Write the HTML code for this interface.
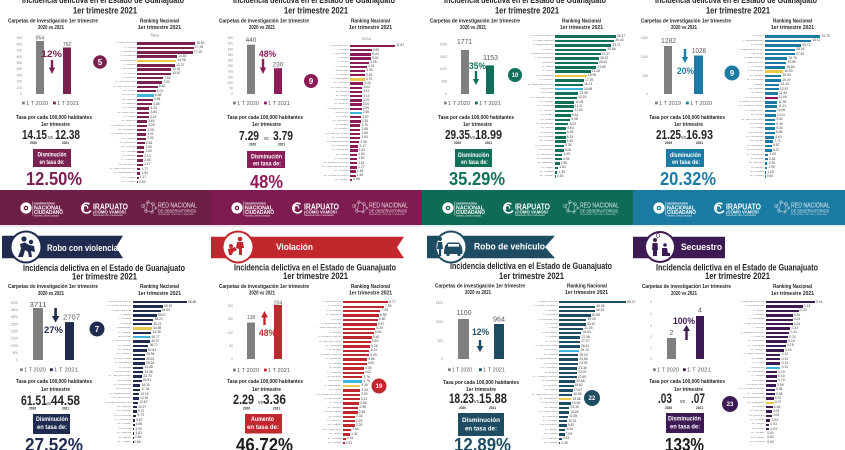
<!DOCTYPE html>
<html><head><meta charset="utf-8"><style>
html,body{margin:0;padding:0;background:#fff}
#w{position:relative;width:845px;height:450px;overflow:hidden;background:#fff}
#w>svg{position:absolute;left:0;top:0}
text{font-family:"Liberation Sans",sans-serif}
.b{font-weight:bold;fill:#262626}
.w{font-weight:bold;fill:#fff}
.tk{fill:#8c8c8c;font-size:3.2px;text-anchor:end}
.lg{fill:#595959;font-size:5px}
.yr{font-weight:bold;fill:#262626;font-size:3.2px}
.vs{fill:#333;font-size:5px}
.bl{fill:#595959;text-anchor:middle}
.rk{position:absolute;width:130px}
.rk p{margin:0;height:var(--h);display:flex;align-items:center;white-space:nowrap}
.rk b{flex:none;width:30px;padding-right:1.5px;text-align:right;font:400 2.6px/1 "Liberation Sans",sans-serif;color:#808080;overflow:hidden}
.rk i{flex:none;display:block;height:2.4px;background:var(--c)}
.rk u{flex:none;margin-left:1.2px;font:400 3.3px/1 "Liberation Sans",sans-serif;color:#444;text-decoration:none}
.rk .g i{background:#e9c84c}
.rk .n i{background:#3fb5dd}
.rk .m i{background:#8b1a4e}
</style></head><body><div id="w">
<svg width="845" height="450" viewBox="0 0 845 450">
<rect x="0" y="225" width="422" height="2" fill="#f1e4ec"/>
<rect x="422" y="225" width="423" height="2" fill="#e3f3f8"/>

<!-- ===== PANEL 1 ===== -->
<g transform="translate(0,0)">
<text x="22" y="3" font-size="9.5" textLength="162" lengthAdjust="spacingAndGlyphs" class="b">Incidencia delictiva en el Estado de Guanajuato</text>
<text x="73" y="13.5" font-size="9.5" textLength="64" lengthAdjust="spacingAndGlyphs" class="b">1er trimestre 2021</text>
<text x="8" y="22.5" font-size="5.5" textLength="90" lengthAdjust="spacingAndGlyphs" class="b">Carpetas de investigación  1er trimestre</text>
<text x="38" y="29" font-size="5.5" textLength="26" lengthAdjust="spacingAndGlyphs" class="b">2020 vs 2021</text>
<text x="140" y="22.5" font-size="5.5" textLength="39" lengthAdjust="spacingAndGlyphs" class="b">Ranking Nacional</text>
<text x="138" y="29" font-size="5.5" textLength="43" lengthAdjust="spacingAndGlyphs" class="b">1er trimestre 2021</text>
<text x="150" y="36.5" font-size="4.2" fill="#8c8c8c">Tasa</text>
<text class="tk" x="22" y="39.2">900</text><text class="tk" x="22" y="45.4">800</text><text class="tk" x="22" y="51.6">700</text><text class="tk" x="22" y="57.8">600</text><text class="tk" x="22" y="64">500</text><text class="tk" x="22" y="70.2">400</text><text class="tk" x="22" y="76.4">300</text><text class="tk" x="22" y="82.6">200</text><text class="tk" x="22" y="88.8">100</text><text class="tk" x="22" y="95">0</text>
<rect x="36" y="41" width="8" height="53" fill="#7f7f7f"/>
<rect x="63" y="47.5" width="8" height="46.5" fill="#7a2150"/>
<text class="bl" x="40" y="39.5" font-size="5">854</text>
<text class="bl" x="67" y="46" font-size="5">752</text>
<text x="41" y="57" font-size="9.5" textLength="21" lengthAdjust="spacingAndGlyphs" font-weight="bold" fill="#7a2150">12%</text>
<rect x="50.8" y="60" width="2.4" height="8.5" fill="#7a2150"/><polygon points="48.8,67.5 55.2,67.5 52,74" fill="#7a2150"/>
<circle cx="100" cy="62" r="6.8" fill="#7a2150"/><text x="100" y="65" font-size="8" class="w" text-anchor="middle">5</text>
<rect x="22" y="101.6" width="2.8" height="2.8" fill="#7f7f7f"/><text class="lg" x="26" y="105" textLength="22" lengthAdjust="spacingAndGlyphs">1 T 2020</text>
<rect x="53" y="101.6" width="2.8" height="2.8" fill="#7a2150"/><text class="lg" x="57" y="105" textLength="22" lengthAdjust="spacingAndGlyphs">1 T 2021</text>
<text x="16" y="119" font-size="5.5" textLength="76" lengthAdjust="spacingAndGlyphs" class="b">Tasa por cada 100,000 habitantes</text>
<text x="41" y="126" font-size="5.5" textLength="29" lengthAdjust="spacingAndGlyphs" class="b">1er trimestre</text>
<text x="22" y="139" font-size="13" textLength="25" lengthAdjust="spacingAndGlyphs" class="b">14.15</text>
<text x="48" y="139" class="vs" textLength="5" lengthAdjust="spacingAndGlyphs">vs</text>
<text x="55" y="139" font-size="13" textLength="25" lengthAdjust="spacingAndGlyphs" class="b">12.38</text>
<text x="30" y="144" class="yr">2020</text><text x="62" y="144" class="yr">2021</text>
<rect x="33" y="149" width="38" height="18" fill="#7a2150"/>
<text x="37.5" y="156.5" font-size="6" textLength="29" lengthAdjust="spacingAndGlyphs" class="w">Disminución</text>
<text x="39.5" y="163.8" font-size="6" textLength="25" lengthAdjust="spacingAndGlyphs" class="w">en tasa de:</text>
<text x="26" y="185" font-size="18.5" textLength="56" lengthAdjust="spacingAndGlyphs" font-weight="bold" fill="#7a2150">12.50%</text>
</g>

<!-- ===== PANEL 2 ===== -->
<g transform="translate(211,0)">
<text x="22" y="3" font-size="9.5" textLength="162" lengthAdjust="spacingAndGlyphs" class="b">Incidencia delictiva en el Estado de Guanajuato</text>
<text x="73" y="13.5" font-size="9.5" textLength="64" lengthAdjust="spacingAndGlyphs" class="b">1er trimestre 2021</text>
<text x="8" y="22.5" font-size="5.5" textLength="90" lengthAdjust="spacingAndGlyphs" class="b">Carpetas de investigación  1er trimestre</text>
<text x="38" y="29" font-size="5.5" textLength="26" lengthAdjust="spacingAndGlyphs" class="b">2020 vs 2021</text>
<text x="140" y="22.5" font-size="5.5" textLength="39" lengthAdjust="spacingAndGlyphs" class="b">Ranking Nacional</text>
<text x="138" y="29" font-size="5.5" textLength="43" lengthAdjust="spacingAndGlyphs" class="b">1er trimestre 2021</text>
<text x="150" y="40" font-size="4" fill="#8c8c8c">TASA</text>
<text class="tk" x="22" y="39.1">500</text><text class="tk" x="22" y="44.7">450</text><text class="tk" x="22" y="50.3">400</text><text class="tk" x="22" y="55.9">350</text><text class="tk" x="22" y="61.5">300</text><text class="tk" x="22" y="67.1">250</text><text class="tk" x="22" y="72.7">200</text><text class="tk" x="22" y="78.3">150</text><text class="tk" x="22" y="83.9">100</text><text class="tk" x="22" y="89.5">50</text><text class="tk" x="22" y="95.1">0</text>
<rect x="36" y="44.7" width="8" height="49.3" fill="#7f7f7f"/>
<rect x="63" y="68.2" width="8" height="25.8" fill="#8b1c57"/>
<text class="bl" x="40" y="42" font-size="6.5">440</text>
<text class="bl" x="67" y="66.5" font-size="6.5">230</text>
<text x="48" y="57" font-size="9.5" textLength="17" lengthAdjust="spacingAndGlyphs" font-weight="bold" fill="#8b1c57">48%</text>
<rect x="50.8" y="59" width="2.4" height="9" fill="#8b1c57"/><polygon points="48.8,67.5 55.2,67.5 52,74" fill="#8b1c57"/>
<circle cx="100" cy="81" r="7" fill="#8b1c57"/><text x="100" y="84" font-size="8" class="w" text-anchor="middle">9</text>
<rect x="22" y="101.6" width="2.8" height="2.8" fill="#7f7f7f"/><text class="lg" x="26" y="105" textLength="22" lengthAdjust="spacingAndGlyphs">1 T 2020</text>
<rect x="53" y="101.6" width="2.8" height="2.8" fill="#8b1c57"/><text class="lg" x="57" y="105" textLength="22" lengthAdjust="spacingAndGlyphs">1 T 2021</text>
<text x="16" y="119" font-size="5.5" textLength="76" lengthAdjust="spacingAndGlyphs" class="b">Tasa por cada 100,000 habitantes</text>
<text x="41" y="126" font-size="5.5" textLength="29" lengthAdjust="spacingAndGlyphs" class="b">1er trimestre</text>
<text x="28" y="140" font-size="13" textLength="20" lengthAdjust="spacingAndGlyphs" class="b">7.29</text>
<text x="53" y="140" class="vs" textLength="4.5" lengthAdjust="spacingAndGlyphs">vs</text>
<text x="62" y="140" font-size="13" textLength="20" lengthAdjust="spacingAndGlyphs" class="b">3.79</text>
<text x="38" y="145.5" class="yr">2020</text><text x="67" y="145.5" class="yr">2021</text>
<rect x="36" y="151" width="38" height="17" fill="#8b1c57"/>
<text x="40" y="158.3" font-size="6" textLength="31" lengthAdjust="spacingAndGlyphs" class="w">Disminución</text>
<text x="42" y="165.5" font-size="6" textLength="28" lengthAdjust="spacingAndGlyphs" class="w" font-weight="normal">en tasa de:</text>
<text x="39" y="188" font-size="18.5" textLength="33" lengthAdjust="spacingAndGlyphs" font-weight="bold" fill="#8b1c57">48%</text>
</g>

<!-- ===== PANEL 3 ===== -->
<g transform="translate(422,0)">
<text x="22" y="3" font-size="9.5" textLength="162" lengthAdjust="spacingAndGlyphs" class="b">Incidencia delictiva en el Estado de Guanajuato</text>
<text x="73" y="13.5" font-size="9.5" textLength="64" lengthAdjust="spacingAndGlyphs" class="b">1er trimestre 2021</text>
<text x="8" y="22.5" font-size="5.5" textLength="90" lengthAdjust="spacingAndGlyphs" class="b">Carpetas de investigación  1er trimestre</text>
<text x="38" y="29" font-size="5.5" textLength="26" lengthAdjust="spacingAndGlyphs" class="b">2020 vs 2021</text>
<text x="140" y="22.5" font-size="5.5" textLength="39" lengthAdjust="spacingAndGlyphs" class="b">Ranking Nacional</text>
<text x="138" y="29" font-size="5.5" textLength="43" lengthAdjust="spacingAndGlyphs" class="b">1er trimestre 2021</text>
<text class="tk" x="25" y="45.4">2000</text><text class="tk" x="25" y="57.8">1500</text><text class="tk" x="25" y="70.2">1000</text><text class="tk" x="25" y="82.6">500</text><text class="tk" x="25" y="95">0</text>
<rect x="39" y="50" width="8" height="44" fill="#7f7f7f"/>
<rect x="64" y="65.4" width="8" height="28.6" fill="#12705a"/>
<text class="bl" x="42.5" y="44" font-size="7" textLength="15" lengthAdjust="spacingAndGlyphs">1771</text>
<text class="bl" x="68.5" y="60" font-size="7" textLength="15" lengthAdjust="spacingAndGlyphs">1153</text>
<text x="47" y="69" font-size="9.5" textLength="17" lengthAdjust="spacingAndGlyphs" font-weight="bold" fill="#12705a">35%</text>
<rect x="52.8" y="71" width="2.4" height="8.5" fill="#12705a"/><polygon points="50.8,79 57.2,79 54,85" fill="#12705a"/>
<circle cx="93" cy="75" r="7" fill="#12705a"/><text x="93" y="77.2" font-size="6" class="w" text-anchor="middle">10</text>
<rect x="22" y="101.6" width="2.8" height="2.8" fill="#7f7f7f"/><text class="lg" x="26" y="105" textLength="22" lengthAdjust="spacingAndGlyphs">1 T 2020</text>
<rect x="53" y="101.6" width="2.8" height="2.8" fill="#12705a"/><text class="lg" x="57" y="105" textLength="22" lengthAdjust="spacingAndGlyphs">1 T 2021</text>
<text x="16" y="119" font-size="5.5" textLength="76" lengthAdjust="spacingAndGlyphs" class="b">Tasa por cada 100,000 habitantes</text>
<text x="41" y="126" font-size="5.5" textLength="29" lengthAdjust="spacingAndGlyphs" class="b">1er trimestre</text>
<text x="23" y="139" font-size="13" textLength="25" lengthAdjust="spacingAndGlyphs" class="b">29.35</text>
<text x="48" y="139" class="vs" textLength="5" lengthAdjust="spacingAndGlyphs">vs</text>
<text x="53" y="139" font-size="13" textLength="27" lengthAdjust="spacingAndGlyphs" class="b">18.99</text>
<text x="32" y="144" class="yr">2020</text><text x="63" y="144" class="yr">2021</text>
<rect x="33" y="149" width="37" height="18" fill="#12705a"/>
<text x="36" y="157" font-size="6" textLength="31" lengthAdjust="spacingAndGlyphs" class="w">Disminución</text>
<text x="39" y="164" font-size="6" textLength="27" lengthAdjust="spacingAndGlyphs" class="w">en tasa de:</text>
<text x="27" y="185" font-size="18.5" textLength="56" lengthAdjust="spacingAndGlyphs" font-weight="bold" fill="#12705a">35.29%</text>
</g>

<!-- ===== PANEL 4 ===== -->
<g transform="translate(633,0)">
<text x="22" y="3" font-size="9.5" textLength="162" lengthAdjust="spacingAndGlyphs" class="b">Incidencia delictiva en el Estado de Guanajuato</text>
<text x="73" y="13.5" font-size="9.5" textLength="64" lengthAdjust="spacingAndGlyphs" class="b">1er trimestre 2021</text>
<text x="8" y="22.5" font-size="5.5" textLength="90" lengthAdjust="spacingAndGlyphs" class="b">Carpetas de investigación  1er trimestre</text>
<text x="38" y="29" font-size="5.5" textLength="26" lengthAdjust="spacingAndGlyphs" class="b">2020 vs 2021</text>
<text x="140" y="22.5" font-size="5.5" textLength="39" lengthAdjust="spacingAndGlyphs" class="b">Ranking Nacional</text>
<text x="138" y="29" font-size="5.5" textLength="43" lengthAdjust="spacingAndGlyphs" class="b">1er trimestre 2021</text>
<text class="tk" x="15" y="39.1">1500</text><text class="tk" x="15" y="58.1">1000</text><text class="tk" x="15" y="77.1">500</text><text class="tk" x="15" y="95.1">0</text>
<rect x="31" y="46" width="8" height="48" fill="#7f7f7f"/>
<rect x="61" y="55.5" width="9" height="38.5" fill="#1b7ba4"/>
<text class="bl" x="35.5" y="43" font-size="7" textLength="15" lengthAdjust="spacingAndGlyphs">1282</text>
<text class="bl" x="66" y="53" font-size="7" textLength="14" lengthAdjust="spacingAndGlyphs">1028</text>
<rect x="50.8" y="49" width="2.4" height="8.5" fill="#1b7ba4"/><polygon points="48.8,57 55.2,57 52,63" fill="#1b7ba4"/>
<text x="44" y="74" font-size="9.5" textLength="17" lengthAdjust="spacingAndGlyphs" font-weight="bold" fill="#1b7ba4">20%</text>
<circle cx="99" cy="73" r="7.5" fill="#1b7ba4"/><text x="99" y="76" font-size="8" class="w" text-anchor="middle">9</text>
<rect x="22" y="101.6" width="2.8" height="2.8" fill="#7f7f7f"/><text class="lg" x="26" y="105" textLength="22" lengthAdjust="spacingAndGlyphs">1 T 2019</text>
<rect x="53" y="101.6" width="2.8" height="2.8" fill="#1b7ba4"/><text class="lg" x="57" y="105" textLength="22" lengthAdjust="spacingAndGlyphs">1 T 2020</text>
<text x="16" y="119" font-size="5.5" textLength="76" lengthAdjust="spacingAndGlyphs" class="b">Tasa por cada 100,000 habitantes</text>
<text x="41" y="126" font-size="5.5" textLength="29" lengthAdjust="spacingAndGlyphs" class="b">1er trimestre</text>
<text x="23" y="139" font-size="13" textLength="25" lengthAdjust="spacingAndGlyphs" class="b">21.25</text>
<text x="48" y="139" class="vs" textLength="5" lengthAdjust="spacingAndGlyphs">vs</text>
<text x="53" y="139" font-size="13" textLength="27" lengthAdjust="spacingAndGlyphs" class="b">16.93</text>
<text x="32" y="144" class="yr">2019</text><text x="63" y="144" class="yr">2021</text>
<rect x="33" y="149" width="38" height="18" fill="#1b7ba4"/>
<text x="37" y="157" font-size="6" textLength="31" lengthAdjust="spacingAndGlyphs" class="w">disminución</text>
<text x="39" y="164" font-size="6" textLength="28" lengthAdjust="spacingAndGlyphs" class="w">en tasa de:</text>
<text x="27" y="185" font-size="18.5" textLength="56" lengthAdjust="spacingAndGlyphs" font-weight="bold" fill="#1b7ba4">20.32%</text>
</g>

<!-- ===== FOOTERS ===== -->
<g transform="translate(0,190)">
<rect width="211" height="35" fill="#6e1f46"/>
<circle cx="26" cy="18" r="5.6" fill="#fff"/><circle cx="26" cy="18" r="2.3" fill="#6e1f46"/><circle cx="26" cy="18" r="1" fill="#fff"/>
<rect x="32.6" y="11.5" width=".5" height="14" fill="#fff"/>
<text x="34" y="14.6" font-size="3" textLength="21" lengthAdjust="spacingAndGlyphs" class="w">OBSERVATORIO</text>
<text x="34" y="19.4" font-size="5" textLength="28" lengthAdjust="spacingAndGlyphs" class="w">NACIONAL</text>
<text x="34" y="24" font-size="5" textLength="29" lengthAdjust="spacingAndGlyphs" class="w">CIUDADANO</text>
<text x="34" y="26.4" font-size="1.7" textLength="25" lengthAdjust="spacingAndGlyphs" class="w" opacity=".8">SEGURIDAD, JUSTICIA Y LEGALIDAD</text>
<path d="M89.5,14.2 A4.8,4.8 0 1 0 90.8,20.5" stroke="#fff" stroke-width="1.7" fill="none"/>
<path d="M84.2,19.5 A2.2,2.2 0 1 1 87.5,18.6" stroke="#fff" stroke-width="1.3" fill="none"/>
<text x="93" y="19.3" font-size="8" textLength="35" lengthAdjust="spacingAndGlyphs" class="w">IRAPUATO</text>
<text x="93" y="23.5" font-size="4.4" textLength="33" lengthAdjust="spacingAndGlyphs" class="w">¡CÓMO VAMOS!</text>
<text x="93" y="26" font-size="1.6" textLength="30" lengthAdjust="spacingAndGlyphs" class="w" opacity=".7">OBSERVATORIO CIUDADANO</text>
<g stroke="#fff" stroke-width=".5" fill="none" opacity=".75"><circle cx="143" cy="16" r="1.6"/><circle cx="148" cy="12" r="1.3"/><circle cx="153" cy="14" r="1.5"/><circle cx="146" cy="21" r="1.4"/><circle cx="152" cy="22" r="1.2"/><circle cx="156" cy="18" r="1"/><path d="M143,16 L148,12 L153,14 L156,18 L152,22 L146,21 Z M148,12 L146,21 M153,14 L152,22"/></g>
<text x="158" y="17.3" font-size="7" textLength="39" lengthAdjust="spacingAndGlyphs" fill="#fff" opacity=".85">RED NACIONAL</text>
<text x="158" y="22.5" font-size="4.6" textLength="38" lengthAdjust="spacingAndGlyphs" fill="#fff" opacity=".85">DE OBSERVATORIOS</text>
<text x="158" y="25.2" font-size="1.6" textLength="36" lengthAdjust="spacingAndGlyphs" fill="#fff" opacity=".7">SEGURIDAD, JUSTICIA Y LEGALIDAD</text>
</g>
<g transform="translate(211,190)">
<rect width="211" height="35" fill="#7e1b50"/>
<circle cx="26" cy="18" r="5.6" fill="#fff"/><circle cx="26" cy="18" r="2.3" fill="#7e1b50"/><circle cx="26" cy="18" r="1" fill="#fff"/>
<rect x="32.6" y="11.5" width=".5" height="14" fill="#fff"/>
<text x="34" y="14.6" font-size="3" textLength="21" lengthAdjust="spacingAndGlyphs" class="w">OBSERVATORIO</text>
<text x="34" y="19.4" font-size="5" textLength="28" lengthAdjust="spacingAndGlyphs" class="w">NACIONAL</text>
<text x="34" y="24" font-size="5" textLength="29" lengthAdjust="spacingAndGlyphs" class="w">CIUDADANO</text>
<text x="34" y="26.4" font-size="1.7" textLength="25" lengthAdjust="spacingAndGlyphs" class="w" opacity=".8">SEGURIDAD, JUSTICIA Y LEGALIDAD</text>
<path d="M89.5,14.2 A4.8,4.8 0 1 0 90.8,20.5" stroke="#fff" stroke-width="1.7" fill="none"/>
<path d="M84.2,19.5 A2.2,2.2 0 1 1 87.5,18.6" stroke="#fff" stroke-width="1.3" fill="none"/>
<text x="93" y="19.3" font-size="8" textLength="35" lengthAdjust="spacingAndGlyphs" class="w">IRAPUATO</text>
<text x="93" y="23.5" font-size="4.4" textLength="33" lengthAdjust="spacingAndGlyphs" class="w">¡CÓMO VAMOS!</text>
<text x="93" y="26" font-size="1.6" textLength="30" lengthAdjust="spacingAndGlyphs" class="w" opacity=".7">OBSERVATORIO CIUDADANO</text>
<g stroke="#fff" stroke-width=".5" fill="none" opacity=".75"><circle cx="143" cy="16" r="1.6"/><circle cx="148" cy="12" r="1.3"/><circle cx="153" cy="14" r="1.5"/><circle cx="146" cy="21" r="1.4"/><circle cx="152" cy="22" r="1.2"/><circle cx="156" cy="18" r="1"/><path d="M143,16 L148,12 L153,14 L156,18 L152,22 L146,21 Z M148,12 L146,21 M153,14 L152,22"/></g>
<text x="158" y="17.3" font-size="7" textLength="39" lengthAdjust="spacingAndGlyphs" fill="#fff" opacity=".85">RED NACIONAL</text>
<text x="158" y="22.5" font-size="4.6" textLength="38" lengthAdjust="spacingAndGlyphs" fill="#fff" opacity=".85">DE OBSERVATORIOS</text>
<text x="158" y="25.2" font-size="1.6" textLength="36" lengthAdjust="spacingAndGlyphs" fill="#fff" opacity=".7">SEGURIDAD, JUSTICIA Y LEGALIDAD</text>
</g>
<g transform="translate(422,190)">
<rect width="211" height="35" fill="#0f6b56"/>
<circle cx="26" cy="18" r="5.6" fill="#fff"/><circle cx="26" cy="18" r="2.3" fill="#0f6b56"/><circle cx="26" cy="18" r="1" fill="#fff"/>
<rect x="32.6" y="11.5" width=".5" height="14" fill="#fff"/>
<text x="34" y="14.6" font-size="3" textLength="21" lengthAdjust="spacingAndGlyphs" class="w">OBSERVATORIO</text>
<text x="34" y="19.4" font-size="5" textLength="28" lengthAdjust="spacingAndGlyphs" class="w">NACIONAL</text>
<text x="34" y="24" font-size="5" textLength="29" lengthAdjust="spacingAndGlyphs" class="w">CIUDADANO</text>
<text x="34" y="26.4" font-size="1.7" textLength="25" lengthAdjust="spacingAndGlyphs" class="w" opacity=".8">SEGURIDAD, JUSTICIA Y LEGALIDAD</text>
<path d="M89.5,14.2 A4.8,4.8 0 1 0 90.8,20.5" stroke="#fff" stroke-width="1.7" fill="none"/>
<path d="M84.2,19.5 A2.2,2.2 0 1 1 87.5,18.6" stroke="#fff" stroke-width="1.3" fill="none"/>
<text x="93" y="19.3" font-size="8" textLength="35" lengthAdjust="spacingAndGlyphs" class="w">IRAPUATO</text>
<text x="93" y="23.5" font-size="4.4" textLength="33" lengthAdjust="spacingAndGlyphs" class="w">¡CÓMO VAMOS!</text>
<text x="93" y="26" font-size="1.6" textLength="30" lengthAdjust="spacingAndGlyphs" class="w" opacity=".7">OBSERVATORIO CIUDADANO</text>
<g stroke="#fff" stroke-width=".5" fill="none" opacity=".75"><circle cx="143" cy="16" r="1.6"/><circle cx="148" cy="12" r="1.3"/><circle cx="153" cy="14" r="1.5"/><circle cx="146" cy="21" r="1.4"/><circle cx="152" cy="22" r="1.2"/><circle cx="156" cy="18" r="1"/><path d="M143,16 L148,12 L153,14 L156,18 L152,22 L146,21 Z M148,12 L146,21 M153,14 L152,22"/></g>
<text x="158" y="17.3" font-size="7" textLength="39" lengthAdjust="spacingAndGlyphs" fill="#fff" opacity=".85">RED NACIONAL</text>
<text x="158" y="22.5" font-size="4.6" textLength="38" lengthAdjust="spacingAndGlyphs" fill="#fff" opacity=".85">DE OBSERVATORIOS</text>
<text x="158" y="25.2" font-size="1.6" textLength="36" lengthAdjust="spacingAndGlyphs" fill="#fff" opacity=".7">SEGURIDAD, JUSTICIA Y LEGALIDAD</text>
</g>
<g transform="translate(633,190)">
<rect width="212" height="35" fill="#1a7aa2"/>
<circle cx="26" cy="18" r="5.6" fill="#fff"/><circle cx="26" cy="18" r="2.3" fill="#1a7aa2"/><circle cx="26" cy="18" r="1" fill="#fff"/>
<rect x="32.6" y="11.5" width=".5" height="14" fill="#fff"/>
<text x="34" y="14.6" font-size="3" textLength="21" lengthAdjust="spacingAndGlyphs" class="w">OBSERVATORIO</text>
<text x="34" y="19.4" font-size="5" textLength="28" lengthAdjust="spacingAndGlyphs" class="w">NACIONAL</text>
<text x="34" y="24" font-size="5" textLength="29" lengthAdjust="spacingAndGlyphs" class="w">CIUDADANO</text>
<text x="34" y="26.4" font-size="1.7" textLength="25" lengthAdjust="spacingAndGlyphs" class="w" opacity=".8">SEGURIDAD, JUSTICIA Y LEGALIDAD</text>
<path d="M89.5,14.2 A4.8,4.8 0 1 0 90.8,20.5" stroke="#fff" stroke-width="1.7" fill="none"/>
<path d="M84.2,19.5 A2.2,2.2 0 1 1 87.5,18.6" stroke="#fff" stroke-width="1.3" fill="none"/>
<text x="93" y="19.3" font-size="8" textLength="35" lengthAdjust="spacingAndGlyphs" class="w">IRAPUATO</text>
<text x="93" y="23.5" font-size="4.4" textLength="33" lengthAdjust="spacingAndGlyphs" class="w">¡CÓMO VAMOS!</text>
<text x="93" y="26" font-size="1.6" textLength="30" lengthAdjust="spacingAndGlyphs" class="w" opacity=".7">OBSERVATORIO CIUDADANO</text>
<g stroke="#fff" stroke-width=".5" fill="none" opacity=".75"><circle cx="143" cy="16" r="1.6"/><circle cx="148" cy="12" r="1.3"/><circle cx="153" cy="14" r="1.5"/><circle cx="146" cy="21" r="1.4"/><circle cx="152" cy="22" r="1.2"/><circle cx="156" cy="18" r="1"/><path d="M143,16 L148,12 L153,14 L156,18 L152,22 L146,21 Z M148,12 L146,21 M153,14 L152,22"/></g>
<text x="158" y="17.3" font-size="7" textLength="39" lengthAdjust="spacingAndGlyphs" fill="#fff" opacity=".85">RED NACIONAL</text>
<text x="158" y="22.5" font-size="4.6" textLength="38" lengthAdjust="spacingAndGlyphs" fill="#fff" opacity=".85">DE OBSERVATORIOS</text>
<text x="158" y="25.2" font-size="1.6" textLength="36" lengthAdjust="spacingAndGlyphs" fill="#fff" opacity=".7">SEGURIDAD, JUSTICIA Y LEGALIDAD</text>
</g>

<!-- ===== PANEL 5 : Robo con violencia ===== -->
<g transform="translate(0,225)">
<polygon points="2,10.7 123,10.7 116,22 123,33.3 2,33.3" fill="#1f2b4f"/>
<circle cx="26" cy="22" r="16.5" fill="#1f2b4f"/><circle cx="26" cy="22" r="14.5" fill="#fff"/>
<circle cx="24" cy="14" r="2.6" fill="#1f2b4f"/><circle cx="31" cy="17" r="2.2" fill="#1f2b4f"/>
<path d="M18,32 L21,24 L20,19 L25,17.5 L29,20 L34,21 L35,27 L31,26 L32,32 L29,32 L28,27 L25,25 L23,32 Z" fill="#1f2b4f"/>
<text x="47" y="26" font-size="9.5" textLength="71" lengthAdjust="spacingAndGlyphs" class="w">Robo con violencia</text>
<text x="23" y="46" font-size="9.5" textLength="162" lengthAdjust="spacingAndGlyphs" class="b">Incidencia delictiva en el Estado de Guanajuato</text>
<text x="72" y="54.5" font-size="9.5" textLength="65" lengthAdjust="spacingAndGlyphs" class="b">1er trimestre 2021</text>
<text x="8" y="63" font-size="5.5" textLength="90" lengthAdjust="spacingAndGlyphs" class="b">Carpetas de investigación  1er trimestre</text>
<text x="38" y="70" font-size="5.5" textLength="26" lengthAdjust="spacingAndGlyphs" class="b">2020 vs 2021</text>
<text x="140" y="63" font-size="5.5" textLength="39" lengthAdjust="spacingAndGlyphs" class="b">Ranking Nacional</text>
<text x="138" y="70" font-size="5.5" textLength="43" lengthAdjust="spacingAndGlyphs" class="b">1er trimestre 2021</text>
<text class="tk" x="18" y="78.8">4000</text><text class="tk" x="18" y="86">3500</text><text class="tk" x="18" y="93.1">3000</text><text class="tk" x="18" y="100.3">2500</text><text class="tk" x="18" y="107.4">2000</text><text class="tk" x="18" y="114.6">1500</text><text class="tk" x="18" y="121.8">1000</text><text class="tk" x="18" y="128.9">500</text><text class="tk" x="18" y="136.1">0</text>
<rect x="33" y="83" width="10" height="52" fill="#7f7f7f"/>
<rect x="65" y="97.1" width="9" height="37.9" fill="#1f2b4f"/>
<text class="bl" x="38" y="82" font-size="7" textLength="17" lengthAdjust="spacingAndGlyphs">3711</text>
<text class="bl" x="71.5" y="94.5" font-size="7" textLength="17" lengthAdjust="spacingAndGlyphs">2707</text>
<rect x="54.3" y="83" width="2.6" height="8.5" fill="#1f2b4f"/><polygon points="51.8,91 59.4,91 55.6,97.5" fill="#1f2b4f"/>
<text x="44" y="108" font-size="9.5" textLength="19" lengthAdjust="spacingAndGlyphs" font-weight="bold" fill="#1f2b4f">27%</text>
<circle cx="97" cy="104" r="7.5" fill="#1f2b4f"/><text x="97" y="107" font-size="8" class="w" text-anchor="middle">7</text>
<rect x="20" y="143.3" width="2.8" height="2.8" fill="#7f7f7f"/><text class="lg" x="24" y="146.7" textLength="22" lengthAdjust="spacingAndGlyphs">1 T 2020</text>
<rect x="50" y="143.3" width="2.8" height="2.8" fill="#1f2b4f"/><text class="lg" x="54" y="146.7" textLength="24" lengthAdjust="spacingAndGlyphs">1 T 2021</text>
<text x="16" y="158" font-size="5.5" textLength="76" lengthAdjust="spacingAndGlyphs" class="b">Tasa por cada 100,000 habitantes</text>
<text x="41" y="166" font-size="5.5" textLength="29" lengthAdjust="spacingAndGlyphs" class="b">1er trimestre</text>
<text x="21" y="180" font-size="13.5" textLength="26" lengthAdjust="spacingAndGlyphs" class="b">61.51</text>
<text x="47" y="180" class="vs" textLength="4" lengthAdjust="spacingAndGlyphs">vs</text>
<text x="51" y="180" font-size="13.5" textLength="29" lengthAdjust="spacingAndGlyphs" class="b">44.58</text>
<text x="29" y="184.5" class="yr">2020</text><text x="62" y="184.5" class="yr">2021</text>
<rect x="33" y="189" width="37" height="20" fill="#1f2b4f"/>
<text x="36" y="196.2" font-size="6" textLength="32" lengthAdjust="spacingAndGlyphs" class="w">Disminución</text>
<text x="37" y="204" font-size="6" textLength="30" lengthAdjust="spacingAndGlyphs" class="w">en tasa de:</text>
<text x="25" y="226" font-size="18.5" textLength="58" lengthAdjust="spacingAndGlyphs" font-weight="bold" fill="#1f2b4f">27.52%</text>
</g>

<!-- ===== PANEL 6 : Violación ===== -->
<g transform="translate(211,225)">
<polygon points="0,11.7 193,11.7 186,22.5 193,33.3 0,33.3" fill="#c2272d"/>
<circle cx="27" cy="22" r="16.5" fill="#c2272d"/><circle cx="27" cy="22" r="14.5" fill="#fff"/>
<circle cx="29" cy="14" r="2.3" fill="#c2272d"/>
<path d="M26,17 L32,17 L33,23 L31,23 L31,30 L28,30 L28,24 L25,23 Z" fill="#c2272d"/>
<circle cx="20" cy="21" r="2" fill="#c2272d"/>
<path d="M17,24 L24,22 L26,25 L22,27 L21,30 L18,30 Z" fill="#c2272d"/>
<text x="65" y="25" font-size="9.5" textLength="37" lengthAdjust="spacingAndGlyphs" class="w">Violación</text>
<text x="23" y="45.5" font-size="9.5" textLength="162" lengthAdjust="spacingAndGlyphs" class="b">Incidencia delictiva en el Estado de Guanajuato</text>
<text x="72" y="54" font-size="9.5" textLength="65" lengthAdjust="spacingAndGlyphs" class="b">1er trimestre 2021</text>
<text x="8" y="63" font-size="5.5" textLength="90" lengthAdjust="spacingAndGlyphs" class="b">Carpetas de investigación  1er trimestre</text>
<text x="38" y="69.5" font-size="5.5" textLength="26" lengthAdjust="spacingAndGlyphs" class="b">2020 vs 2021</text>
<text x="140" y="63" font-size="5.5" textLength="39" lengthAdjust="spacingAndGlyphs" class="b">Ranking Nacional</text>
<text x="138" y="69.5" font-size="5.5" textLength="43" lengthAdjust="spacingAndGlyphs" class="b">1er trimestre 2021</text>
<text class="tk" x="22" y="82.1">200</text><text class="tk" x="22" y="95.1">150</text><text class="tk" x="22" y="109.1">100</text><text class="tk" x="22" y="122.1">50</text><text class="tk" x="22" y="135.1">0</text>
<rect x="36" y="97.5" width="8" height="36.5" fill="#7f7f7f"/>
<rect x="63" y="80" width="8" height="54" fill="#c2272d"/>
<text class="bl" x="40" y="94" font-size="5">138</text>
<text class="bl" x="67" y="79.5" font-size="5">204</text>
<polygon points="50,92.5 57,92.5 53.5,86" fill="#c2272d"/><rect x="52.3" y="92" width="2.4" height="8" fill="#c2272d"/>
<text x="48" y="111" font-size="9.5" textLength="17" lengthAdjust="spacingAndGlyphs" font-weight="bold" fill="#c2272d">48%</text>
<circle cx="168" cy="161" r="7.5" fill="#c2272d"/><text x="168" y="163.2" font-size="6" class="w" text-anchor="middle">19</text>
<rect x="22" y="143.6" width="2.8" height="2.8" fill="#7f7f7f"/><text class="lg" x="26" y="147" textLength="22" lengthAdjust="spacingAndGlyphs">1 T 2020</text>
<rect x="53" y="143.6" width="2.8" height="2.8" fill="#c2272d"/><text class="lg" x="57" y="147" textLength="22" lengthAdjust="spacingAndGlyphs">1 T 2021</text>
<text x="16" y="158" font-size="5.5" textLength="76" lengthAdjust="spacingAndGlyphs" class="b">Tasa por cada 100,000 habitantes</text>
<text x="41" y="166" font-size="5.5" textLength="29" lengthAdjust="spacingAndGlyphs" class="b">1er trimestre</text>
<text x="22" y="179" font-size="13.5" textLength="21" lengthAdjust="spacingAndGlyphs" class="b">2.29</text>
<text x="47" y="179" class="vs" textLength="5" lengthAdjust="spacingAndGlyphs">vs</text>
<text x="52" y="179" font-size="13.5" textLength="23" lengthAdjust="spacingAndGlyphs" class="b">3.36</text>
<text x="32" y="184.5" class="yr">2020</text><text x="62" y="184.5" class="yr">2021</text>
<rect x="34" y="189" width="37" height="19.5" fill="#c2272d"/>
<text x="40" y="196" font-size="6" textLength="23" lengthAdjust="spacingAndGlyphs" class="w">Aumento</text>
<text x="36" y="204" font-size="6" textLength="32" lengthAdjust="spacingAndGlyphs" class="w">en tasa de:</text>
<text x="25" y="226" font-size="18.5" textLength="57" lengthAdjust="spacingAndGlyphs" font-weight="bold" fill="#1a1a1a">46.72%</text>
</g>

<!-- ===== PANEL 7 : Robo de vehículo ===== -->
<g transform="translate(422,225)">
<polygon points="5,10.7 133,10.7 123,22 133,33.3 5,33.3" fill="#1e4d63"/>
<circle cx="29" cy="22" r="16.5" fill="#1e4d63"/><circle cx="29" cy="22" r="14.5" fill="#fff"/>
<path d="M22,26 L23,21 L26,17.5 L37,17.5 L39.5,21 L40.5,26 L40.5,29 L22,29 Z" fill="#1e4d63"/>
<rect x="26" y="19" width="11" height="2.6" fill="#fff"/>
<circle cx="26" cy="29.5" r="1.6" fill="#1e4d63"/><circle cx="37" cy="29.5" r="1.6" fill="#1e4d63"/>
<circle cx="18" cy="14" r="2" fill="#1e4d63"/>
<path d="M16,17 L20,17 L21,24 L19.2,24 L19.2,31 L17,31 L17,24 L15,24Z" fill="#1e4d63"/>
<text x="52" y="24.5" font-size="9.5" textLength="71" lengthAdjust="spacingAndGlyphs" class="w">Robo de vehículo</text>
<text x="28" y="44" font-size="9.5" textLength="162" lengthAdjust="spacingAndGlyphs" class="b">Incidencia delictiva en el Estado de Guanajuato</text>
<text x="77" y="54" font-size="9.5" textLength="65" lengthAdjust="spacingAndGlyphs" class="b">1er trimestre 2021</text>
<text x="13" y="62.7" font-size="5.5" textLength="90" lengthAdjust="spacingAndGlyphs" class="b">Carpetas de investigación  1er trimestre</text>
<text x="43" y="69" font-size="5.5" textLength="26" lengthAdjust="spacingAndGlyphs" class="b">2020 vs 2021</text>
<text x="145" y="62.7" font-size="5.5" textLength="40" lengthAdjust="spacingAndGlyphs" class="b">Ranking Nacional</text>
<text x="143" y="69" font-size="5.5" textLength="43" lengthAdjust="spacingAndGlyphs" class="b">1er trimestre 2021</text>
<text class="tk" x="21" y="79.1">1500</text><text class="tk" x="21" y="98.1">1000</text><text class="tk" x="21" y="117.1">500</text><text class="tk" x="21" y="135.1">0</text>
<rect x="36" y="94" width="11" height="40" fill="#7f7f7f"/>
<rect x="72" y="99" width="10" height="35" fill="#1e4d63"/>
<text class="bl" x="42" y="90" font-size="7" textLength="15" lengthAdjust="spacingAndGlyphs">1100</text>
<text class="bl" x="77" y="96.5" font-size="7" textLength="12" lengthAdjust="spacingAndGlyphs">964</text>
<text x="50" y="110" font-size="9.5" textLength="17" lengthAdjust="spacingAndGlyphs" font-weight="bold" fill="#1e4d63">12%</text>
<rect x="56.8" y="115" width="2.4" height="7" fill="#1e4d63"/><polygon points="54.5,121 61.5,121 58,127" fill="#1e4d63"/>
<circle cx="170" cy="173" r="8" fill="#1e4d63"/><text x="170" y="175.2" font-size="6" class="w" text-anchor="middle">22</text>
<rect x="26" y="143.3" width="2.8" height="2.8" fill="#7f7f7f"/><text class="lg" x="30" y="146.7" textLength="20" lengthAdjust="spacingAndGlyphs">1 T 2020</text>
<rect x="57" y="143.3" width="2.8" height="2.8" fill="#1e4d63"/><text class="lg" x="61" y="146.7" textLength="22" lengthAdjust="spacingAndGlyphs">1 T 2021</text>
<text x="21" y="159" font-size="5.5" textLength="76" lengthAdjust="spacingAndGlyphs" class="b">Tasa por cada 100,000 habitantes</text>
<text x="44" y="166" font-size="5.5" textLength="30" lengthAdjust="spacingAndGlyphs" class="b">1er trimestre</text>
<text x="27" y="178" font-size="13.5" textLength="25" lengthAdjust="spacingAndGlyphs" class="b">18.23</text>
<text x="52" y="178" class="vs" textLength="5" lengthAdjust="spacingAndGlyphs">vs</text>
<text x="57" y="178" font-size="13.5" textLength="28" lengthAdjust="spacingAndGlyphs" class="b">15.88</text>
<text x="37" y="184" class="yr">2020</text><text x="67" y="184" class="yr">2021</text>
<rect x="36" y="188" width="46" height="23" fill="#1e4d63"/>
<text x="40" y="197" font-size="6.5" textLength="38" lengthAdjust="spacingAndGlyphs" class="w">Disminución</text>
<text x="43" y="205.5" font-size="6.5" textLength="32" lengthAdjust="spacingAndGlyphs" class="w">en tasa de:</text>
<text x="32" y="226" font-size="18.5" textLength="57" lengthAdjust="spacingAndGlyphs" font-weight="bold" fill="#1e4d63">12.89%</text>
</g>

<!-- ===== PANEL 8 : Secuestro ===== -->
<g transform="translate(633,225)">
<polygon points="0,11.7 92,11.7 92,33.3 0,33.3" fill="#3e1a54"/>
<circle cx="27" cy="22" r="16" fill="#3e1a54"/><circle cx="27" cy="22" r="14" fill="#fff"/>
<circle cx="22" cy="15" r="2" fill="#3e1a54"/>
<path d="M19.5,18 L24.5,18 L25,25 L24,25 L24,31 L20,31 L20,25 L19,25Z" fill="#3e1a54"/>
<circle cx="32" cy="20" r="1.8" fill="#3e1a54"/>
<path d="M29,23 L34,23 L35,28 L37,28 L37,31 L29,31Z" fill="#3e1a54"/>
<circle cx="25" cy="10.5" r="1.8" fill="none" stroke="#3e1a54" stroke-width=".6"/>
<text x="48" y="25" font-size="9.5" textLength="41" lengthAdjust="spacingAndGlyphs" class="w">Secuestro</text>
<text x="23" y="45.5" font-size="9.5" textLength="162" lengthAdjust="spacingAndGlyphs" class="b">Incidencia delictiva en el Estado de Guanajuato</text>
<text x="72" y="54" font-size="9.5" textLength="65" lengthAdjust="spacingAndGlyphs" class="b">1er trimestre 2021</text>
<text x="9" y="63" font-size="5.5" textLength="89" lengthAdjust="spacingAndGlyphs" class="b">Carpetas de investigación  1er trimestre</text>
<text x="38" y="70" font-size="5.5" textLength="26" lengthAdjust="spacingAndGlyphs" class="b">2020 vs 2021</text>
<text x="140" y="63" font-size="5.5" textLength="39" lengthAdjust="spacingAndGlyphs" class="b">Ranking Nacional</text>
<text x="138" y="70" font-size="5.5" textLength="43" lengthAdjust="spacingAndGlyphs" class="b">1er trimestre 2021</text>
<text class="tk" x="19" y="78.1">5</text><text class="tk" x="19" y="90.1">4</text><text class="tk" x="19" y="102.1">3</text><text class="tk" x="19" y="113.1">2</text><text class="tk" x="19" y="124.1">1</text><text class="tk" x="19" y="135.1">0</text>
<rect x="34" y="113" width="9" height="21" fill="#7f7f7f"/>
<rect x="63" y="91" width="8" height="43" fill="#3e1a54"/>
<text class="bl" x="38.5" y="110" font-size="7">2</text>
<text class="bl" x="67" y="87.5" font-size="7">4</text>
<text x="40" y="99" font-size="9.5" textLength="22" lengthAdjust="spacingAndGlyphs" font-weight="bold" fill="#3e1a54">100%</text>
<polygon points="50,106 57,106 53.5,100" fill="#3e1a54"/><rect x="52.3" y="105.5" width="2.4" height="9.5" fill="#3e1a54"/>
<circle cx="97" cy="179" r="8" fill="#3e1a54"/><text x="97" y="181.2" font-size="6" class="w" text-anchor="middle">23</text>
<rect x="20" y="143.3" width="2.8" height="2.8" fill="#7f7f7f"/><text class="lg" x="24" y="146.7" textLength="22" lengthAdjust="spacingAndGlyphs">1 T 2020</text>
<rect x="50" y="143.3" width="2.8" height="2.8" fill="#3e1a54"/><text class="lg" x="54" y="146.7" textLength="24" lengthAdjust="spacingAndGlyphs">1 T 2021</text>
<text x="16" y="158" font-size="5.5" textLength="76" lengthAdjust="spacingAndGlyphs" class="b">Tasa por cada 100,000 habitantes</text>
<text x="41" y="166" font-size="5.5" textLength="29" lengthAdjust="spacingAndGlyphs" class="b">1er trimestre</text>
<text x="25" y="178" font-size="13.5" textLength="14" lengthAdjust="spacingAndGlyphs" class="b">.03</text>
<text x="47" y="178" class="vs" textLength="5" lengthAdjust="spacingAndGlyphs">vs</text>
<text x="58" y="178" font-size="13.5" textLength="14" lengthAdjust="spacingAndGlyphs" class="b">.07</text>
<text x="32" y="184" class="yr">2020</text><text x="63" y="184" class="yr">2021</text>
<rect x="33" y="188" width="38" height="20" fill="#3e1a54"/>
<text x="35" y="195.5" font-size="6" textLength="33" lengthAdjust="spacingAndGlyphs" class="w">Disminución</text>
<text x="37" y="203.5" font-size="6" textLength="30" lengthAdjust="spacingAndGlyphs" class="w">en tasa de:</text>
<text x="32" y="226" font-size="18.5" textLength="39" lengthAdjust="spacingAndGlyphs" font-weight="bold" fill="#1a1a1a">133%</text>
</g>
</svg>

<!-- ===== RANKINGS ===== -->
<div class="rk" style="left:105.5px;top:41.5px;--h:4.33px;--c:#7a2150">
<p><b>1. Baja California</b><i style="width:58px"></i><u>18.50</u></p>
<p><b>2. Colima</b><i style="width:56.7px"></i><u>17.25</u></p>
<p><b>3. Zacatecas</b><i style="width:55.7px"></i><u>17.15</u></p>
<p><b>4. Chihuahua</b><i style="width:40px"></i><u>14.50</u></p>
<p class="g"><b>5. Guanajuato</b><i style="width:39.3px"></i><u>13.98</u></p>
<p><b>6. Morelos</b><i style="width:38px"></i><u>12.27</u></p>
<p><b>7. Michoacán</b><i style="width:34px"></i><u>10.91</u></p>
<p><b>8. Sonora</b><i style="width:34px"></i><u>10.87</u></p>
<p><b>9. Guerrero</b><i style="width:26px"></i><u>7.52</u></p>
<p><b>10. Quintana Roo</b><i style="width:25px"></i><u>7.00</u></p>
<p><b>11. San Luis Potosí</b><i style="width:20.7px"></i><u>6.46</u></p>
<p><b>12. Jalisco</b><i style="width:18.7px"></i><u>6.01</u></p>
<p class="n"><b>NACIONAL</b><i style="width:16.7px"></i><u>5.68</u></p>
<p><b>13. Oaxaca</b><i style="width:15.7px"></i><u>4.98</u></p>
<p><b>14. Tabasco</b><i style="width:15px"></i><u>4.86</u></p>
<p><b>15. Nayarit</b><i style="width:12.3px"></i><u>4.00</u></p>
<p><b>16. Nuevo León</b><i style="width:12.3px"></i><u>3.84</u></p>
<p><b>17. Puebla</b><i style="width:11.7px"></i><u>4.15</u></p>
<p><b>18. Veracruz</b><i style="width:10px"></i><u>3.60</u></p>
<p><b>19. Estado de México</b><i style="width:10px"></i><u>3.28</u></p>
<p><b>20. Tamaulipas</b><i style="width:9.3px"></i><u>3.05</u></p>
<p><b>21. Ciudad de México</b><i style="width:9px"></i><u>3.01</u></p>
<p><b>22. Sinaloa</b><i style="width:9px"></i><u>2.92</u></p>
<p><b>23. Querétaro</b><i style="width:7.7px"></i><u>2.56</u></p>
<p><b>24. Durango</b><i style="width:7.3px"></i><u>2.50</u></p>
<p><b>25. Tlaxcala</b><i style="width:7.3px"></i><u>2.60</u></p>
<p><b>26. Hidalgo</b><i style="width:6px"></i><u>2.14</u></p>
<p><b>27. Coahuila</b><i style="width:6px"></i><u>2.05</u></p>
<p><b>28. Campeche</b><i style="width:6px"></i><u>2.17</u></p>
<p><b>29. Baja California Sur</b><i style="width:3.3px"></i><u>1.77</u></p>
<p><b>30. Aguascalientes</b><i style="width:3.3px"></i><u>1.50</u></p>
<p><b>31. Chiapas</b><i style="width:1.7px"></i><u>1.17</u></p>
<p><b>32. Yucatán</b><i style="width:1px"></i><u>0.90</u></p>
</div>

<div class="rk" style="left:318.5px;top:43.9px;--h:4.2px;--c:#8b1c57">
<p><b>1. Quintana Roo</b><i style="width:45px"></i><u>11.67</u></p>
<p><b>2. Oaxaca</b><i style="width:21.6px"></i><u>5.59</u></p>
<p><b>3. Michoacán</b><i style="width:21px"></i><u>5.43</u></p>
<p><b>4. Sonora</b><i style="width:20.8px"></i><u>5.40</u></p>
<p><b>5. Colima</b><i style="width:19.1px"></i><u>4.95</u></p>
<p><b>6. Morelos</b><i style="width:16.8px"></i><u>4.34</u></p>
<p><b>7. Tamaulipas</b><i style="width:15.1px"></i><u>3.90</u></p>
<p><b>8. Tabasco</b><i style="width:14.8px"></i><u>3.83</u></p>
<p class="g"><b>9. Guanajuato</b><i style="width:14.6px"></i><u>3.79</u></p>
<p><b>10. Guerrero</b><i style="width:13.1px"></i><u>3.40</u></p>
<p><b>11. Nuevo León</b><i style="width:12.4px"></i><u>3.22</u></p>
<p><b>12. Sinaloa</b><i style="width:12px"></i><u>3.11</u></p>
<p><b>13. Nayarit</b><i style="width:12px"></i><u>3.10</u></p>
<p><b>14. Chiapas</b><i style="width:11.9px"></i><u>3.07</u></p>
<p><b>15. Veracruz</b><i style="width:11.6px"></i><u>3.00</u></p>
<p><b>16. Baja California</b><i style="width:11.5px"></i><u>2.99</u></p>
<p class="n"><b>NACIONAL</b><i style="width:11.5px"></i><u>2.98</u></p>
<p><b>17. Jalisco</b><i style="width:11.1px"></i><u>2.87</u></p>
<p><b>18. Querétaro</b><i style="width:10.8px"></i><u>2.81</u></p>
<p><b>19. Hidalgo</b><i style="width:10.4px"></i><u>2.70</u></p>
<p><b>20. Durango</b><i style="width:10.3px"></i><u>2.68</u></p>
<p><b>21. San Luis Potosí</b><i style="width:10.3px"></i><u>2.66</u></p>
<p><b>22. Chihuahua</b><i style="width:10.2px"></i><u>2.63</u></p>
<p><b>23. Aguascalientes</b><i style="width:9.2px"></i><u>2.38</u></p>
<p><b>24. Zacatecas</b><i style="width:8.4px"></i><u>2.17</u></p>
<p><b>25. Campeche</b><i style="width:7.5px"></i><u>1.94</u></p>
<p><b>26. Puebla</b><i style="width:7.1px"></i><u>1.84</u></p>
<p><b>27. Coahuila</b><i style="width:7px"></i><u>1.82</u></p>
<p><b>28. Estado de México</b><i style="width:7px"></i><u>1.81</u></p>
<p><b>29. Baja California Sur</b><i style="width:6.8px"></i><u>1.77</u></p>
<p><b>30. Tlaxcala</b><i style="width:5.7px"></i><u>1.48</u></p>
<p><b>31. Ciudad de México</b><i style="width:5.6px"></i><u>1.45</u></p>
<p><b>32. Yucatán</b><i style="width:2.2px"></i><u>0.58</u></p>
</div>

<div class="rk" style="left:523.5px;top:34.5px;--h:4.39px;--c:#12705a">
<p><b>1. Ciudad de México</b><i style="width:60.6px"></i><u>36.37</u></p>
<p><b>2. Baja California</b><i style="width:59.1px"></i><u>35.44</u></p>
<p><b>3. Aguascalientes</b><i style="width:56.2px"></i><u>33.71</u></p>
<p><b>4. Morelos</b><i style="width:51.1px"></i><u>30.66</u></p>
<p><b>5. Estado de México</b><i style="width:45.5px"></i><u>27.27</u></p>
<p><b>6. Quintana Roo</b><i style="width:43.9px"></i><u>26.32</u></p>
<p><b>7. Querétaro</b><i style="width:42.7px"></i><u>25.61</u></p>
<p><b>8. Jalisco</b><i style="width:41.2px"></i><u>24.69</u></p>
<p><b>9. Colima</b><i style="width:35.5px"></i><u>21.28</u></p>
<p class="g"><b>10. Guanajuato</b><i style="width:31.7px"></i><u>18.99</u></p>
<p><b>11. Veracruz</b><i style="width:28.8px"></i><u>17.29</u></p>
<p><b>12. Baja California Sur</b><i style="width:27.9px"></i><u>16.74</u></p>
<p class="n"><b>NACIONAL</b><i style="width:27.8px"></i><u>16.65</u></p>
<p><b>13. Puebla</b><i style="width:23.3px"></i><u>13.96</u></p>
<p><b>14. San Luis Potosí</b><i style="width:21.9px"></i><u>13.15</u></p>
<p><b>15. Durango</b><i style="width:19.2px"></i><u>11.49</u></p>
<p><b>16. Chihuahua</b><i style="width:18.7px"></i><u>11.21</u></p>
<p><b>17. Tabasco</b><i style="width:18.4px"></i><u>11.03</u></p>
<p><b>18. Hidalgo</b><i style="width:15.6px"></i><u>9.33</u></p>
<p><b>19. Sinaloa</b><i style="width:15.1px"></i><u>9.08</u></p>
<p><b>20. Tamaulipas</b><i style="width:13.4px"></i><u>8.03</u></p>
<p><b>21. Sonora</b><i style="width:11.1px"></i><u>6.64</u></p>
<p><b>22. Oaxaca</b><i style="width:10.7px"></i><u>6.39</u></p>
<p><b>23. Coahuila</b><i style="width:10.6px"></i><u>6.33</u></p>
<p><b>24. Tlaxcala</b><i style="width:10.5px"></i><u>6.30</u></p>
<p><b>25. Nuevo León</b><i style="width:8.9px"></i><u>5.35</u></p>
<p><b>26. Guerrero</b><i style="width:8.5px"></i><u>5.08</u></p>
<p><b>27. Campeche</b><i style="width:7.4px"></i><u>4.45</u></p>
<p><b>28. Michoacán</b><i style="width:6.8px"></i><u>4.05</u></p>
<p><b>29. Zacatecas</b><i style="width:4.7px"></i><u>2.80</u></p>
<p><b>30. Nayarit</b><i style="width:3.1px"></i><u>1.84</u></p>
<p><b>31. Chiapas</b><i style="width:2.3px"></i><u>1.35</u></p>
<p><b>32. Yucatán</b><i style="width:0.9px"></i><u>0.53</u></p>
</div>

<div class="rk" style="left:733.5px;top:34.5px;--h:4.39px;--c:#1b7ba4">
<p><b>1. Colima</b><i style="width:55.4px"></i><u>51.75</u></p>
<p><b>2. Aguascalientes</b><i style="width:46.1px"></i><u>43.12</u></p>
<p><b>3. Durango</b><i style="width:36.1px"></i><u>33.72</u></p>
<p><b>4. Baja California Sur</b><i style="width:30px"></i><u>28.05</u></p>
<p><b>5. Querétaro</b><i style="width:29.8px"></i><u>27.81</u></p>
<p><b>6. Baja California</b><i style="width:22.2px"></i><u>20.76</u></p>
<p><b>7. Quintana Roo</b><i style="width:21.3px"></i><u>19.89</u></p>
<p><b>8. Morelos</b><i style="width:20.1px"></i><u>18.83</u></p>
<p class="g"><b>9. Guanajuato</b><i style="width:18.1px"></i><u>16.93</u></p>
<p><b>10. Tabasco</b><i style="width:16.4px"></i><u>15.34</u></p>
<p><b>11. Chihuahua</b><i style="width:16.1px"></i><u>15.00</u></p>
<p><b>Hidalgo</b><i style="width:14.4px"></i><u>13.43</u></p>
<p><b>12. Coahuila</b><i style="width:13.8px"></i><u>12.87</u></p>
<p><b>13. Jalisco</b><i style="width:12.8px"></i><u>11.96</u></p>
<p class="m"><b>14. NACIONAL</b><i style="width:12.5px"></i><u>11.69</u></p>
<p><b>15. Estado de México</b><i style="width:12.1px"></i><u>11.35</u></p>
<p><b>16. Ciudad de México</b><i style="width:12px"></i><u>11.21</u></p>
<p><b>17. Nuevo León</b><i style="width:10.8px"></i><u>10.06</u></p>
<p><b>18. Sonora</b><i style="width:10.7px"></i><u>10.01</u></p>
<p><b>19. San Luis Potosí</b><i style="width:10.3px"></i><u>9.62</u></p>
<p><b>20. Tlaxcala</b><i style="width:10.2px"></i><u>9.49</u></p>
<p><b>21. Puebla</b><i style="width:10px"></i><u>9.34</u></p>
<p><b>22. Veracruz</b><i style="width:9.7px"></i><u>9.06</u></p>
<p><b>23. Tamaulipas</b><i style="width:9.2px"></i><u>8.62</u></p>
<p><b>24. Oaxaca</b><i style="width:8.2px"></i><u>7.71</u></p>
<p><b>25. Zacatecas</b><i style="width:7px"></i><u>6.57</u></p>
<p><b>26. Michoacán</b><i style="width:6.8px"></i><u>6.37</u></p>
<p><b>27. Campeche</b><i style="width:3.3px"></i><u>3.05</u></p>
<p><b>28. Sinaloa</b><i style="width:2.7px"></i><u>2.48</u></p>
<p><b>29. Guerrero</b><i style="width:2.4px"></i><u>2.26</u></p>
<p><b>30. Nayarit</b><i style="width:2.1px"></i><u>1.99</u></p>
<p><b>31. Yucatán</b><i style="width:1.1px"></i><u>1.05</u></p>
<p><b>32. Chiapas</b><i style="width:0.6px"></i><u>0.60</u></p>
</div>

<div class="rk" style="left:101px;top:300.1px;--h:4.39px;--c:#1f2b4f">
<p><b>1. Estado de México</b><i style="width:54.3px"></i><u>56.86</u></p>
<p><b>2. Ciudad de México</b><i style="width:30.3px"></i><u>69.92</u></p>
<p><b>3. Baja California</b><i style="width:28px"></i><u>64.69</u></p>
<p><b>4. Jalisco</b><i style="width:24.1px"></i><u>55.67</u></p>
<p><b>5. Morelos</b><i style="width:20.9px"></i><u>48.21</u></p>
<p><b>6. Puebla</b><i style="width:19.6px"></i><u>45.21</u></p>
<p class="g"><b>7. Guanajuato</b><i style="width:19.3px"></i><u>44.58</u></p>
<p><b>8. Tabasco</b><i style="width:18.8px"></i><u>43.38</u></p>
<p class="n"><b>NACIONAL</b><i style="width:17.7px"></i><u>40.77</u></p>
<p><b>9. Quintana Roo</b><i style="width:17.5px"></i><u>40.37</u></p>
<p><b>10. Sinaloa</b><i style="width:15.9px"></i><u>36.77</u></p>
<p><b>11. Hidalgo</b><i style="width:14.1px"></i><u>32.64</u></p>
<p><b>12. Veracruz</b><i style="width:12.5px"></i><u>28.96</u></p>
<p><b>13. Michoacán</b><i style="width:12.4px"></i><u>28.62</u></p>
<p><b>14. Zacatecas</b><i style="width:12.3px"></i><u>28.33</u></p>
<p><b>15. Sonora</b><i style="width:10.8px"></i><u>24.88</u></p>
<p><b>16. Querétaro</b><i style="width:10.8px"></i><u>24.96</u></p>
<p><b>17. San Luis Potosí</b><i style="width:9.8px"></i><u>22.70</u></p>
<p><b>18. Oaxaca</b><i style="width:9.1px"></i><u>20.91</u></p>
<p><b>19. Tamaulipas</b><i style="width:7.9px"></i><u>18.30</u></p>
<p><b>20. Guerrero</b><i style="width:7.5px"></i><u>17.35</u></p>
<p><b>21. Aguascalientes</b><i style="width:6.6px"></i><u>15.15</u></p>
<p><b>22. Nuevo León</b><i style="width:6.3px"></i><u>14.49</u></p>
<p><b>23. Baja California Sur</b><i style="width:5.6px"></i><u>12.87</u></p>
<p><b>24. Tlaxcala</b><i style="width:4.4px"></i><u>10.27</u></p>
<p><b>25. Durango</b><i style="width:4.2px"></i><u>9.72</u></p>
<p><b>26. Chihuahua</b><i style="width:3.8px"></i><u>8.73</u></p>
<p><b>27. Campeche</b><i style="width:2.5px"></i><u>5.87</u></p>
<p><b>28. Chiapas</b><i style="width:2.1px"></i><u>4.86</u></p>
<p><b>29. Colima</b><i style="width:1.7px"></i><u>3.90</u></p>
<p><b>30. Coahuila</b><i style="width:1.7px"></i><u>3.83</u></p>
<p><b>31. Nayarit</b><i style="width:1.2px"></i><u>2.86</u></p>
<p><b>32. Yucatán</b><i style="width:0.3px"></i><u>0.56</u></p>
</div>

<div class="rk" style="left:311.5px;top:300.1px;--h:4.41px;--c:#c2272d">
<p><b>1. Quintana Roo</b><i style="width:45px"></i><u>8.77</u></p>
<p><b>2. Guerrero</b><i style="width:40.8px"></i><u>7.95</u></p>
<p><b>3. Chihuahua</b><i style="width:37.3px"></i><u>7.28</u></p>
<p><b>4. Campeche</b><i style="width:35.8px"></i><u>6.98</u></p>
<p><b>5. Colima</b><i style="width:34.9px"></i><u>6.80</u></p>
<p><b>6. Aguascalientes</b><i style="width:33.7px"></i><u>6.57</u></p>
<p><b>7. Baja California Sur</b><i style="width:32.3px"></i><u>6.30</u></p>
<p><b>8. Morelos</b><i style="width:30.8px"></i><u>6.00</u></p>
<p><b>9. Ciudad de México</b><i style="width:28.8px"></i><u>5.61</u></p>
<p><b>10. San Luis Potosí</b><i style="width:27.7px"></i><u>5.40</u></p>
<p><b>11. Querétaro</b><i style="width:27.1px"></i><u>5.28</u></p>
<p><b>12. Hidalgo</b><i style="width:26.4px"></i><u>5.14</u></p>
<p><b>13. Baja California</b><i style="width:26.1px"></i><u>5.09</u></p>
<p><b>14. Zacatecas</b><i style="width:24px"></i><u>4.68</u></p>
<p><b>15. Oaxaca</b><i style="width:23.6px"></i><u>4.60</u></p>
<p><b>16. Nayarit</b><i style="width:20.8px"></i><u>4.06</u></p>
<p><b>17. Coahuila</b><i style="width:20.6px"></i><u>4.02</u></p>
<p><b>18. Durango</b><i style="width:19.3px"></i><u>3.76</u></p>
<p class="n"><b>NACIONAL</b><i style="width:19.2px"></i><u>3.75</u></p>
<p class="g"><b>19. Guanajuato</b><i style="width:17.2px"></i><u>3.36</u></p>
<p><b>20. Puebla</b><i style="width:17.1px"></i><u>3.34</u></p>
<p><b>21. Estado de México</b><i style="width:16.9px"></i><u>3.30</u></p>
<p><b>22. Tamaulipas</b><i style="width:16.6px"></i><u>3.23</u></p>
<p><b>23. Sonora</b><i style="width:15.8px"></i><u>3.08</u></p>
<p><b>24. Tabasco</b><i style="width:15.3px"></i><u>2.98</u></p>
<p><b>25. Michoacán</b><i style="width:14.6px"></i><u>2.85</u></p>
<p><b>26. Sinaloa</b><i style="width:12px"></i><u>2.33</u></p>
<p><b>27. Veracruz</b><i style="width:11.7px"></i><u>2.29</u></p>
<p><b>28. Chiapas</b><i style="width:11.7px"></i><u>2.28</u></p>
<p><b>29. Nuevo León</b><i style="width:8.2px"></i><u>1.60</u></p>
<p><b>30. Jalisco</b><i style="width:6.9px"></i><u>1.34</u></p>
<p><b>31. Tlaxcala</b><i style="width:3.1px"></i><u>0.61</u></p>
<p><b>32. Yucatán</b><i style="width:1.6px"></i><u>0.31</u></p>
</div>

<div class="rk" style="left:527.5px;top:300.1px;--h:4.41px;--c:#1e4d63">
<p><b>1. Baja California</b><i style="width:67px"></i><u>86.07</u></p>
<p><b>2. Estado de México</b><i style="width:36.2px"></i><u>46.55</u></p>
<p><b>3. Morelos</b><i style="width:35.8px"></i><u>46.03</u></p>
<p><b>4. Querétaro</b><i style="width:31.5px"></i><u>40.55</u></p>
<p><b>5. Quintana Roo</b><i style="width:27.2px"></i><u>35.03</u></p>
<p><b>6. Jalisco</b><i style="width:26.7px"></i><u>34.32</u></p>
<p><b>7. Puebla</b><i style="width:24.1px"></i><u>31.05</u></p>
<p><b>8. Michoacán</b><i style="width:22.3px"></i><u>28.64</u></p>
<p><b>9. Sinaloa</b><i style="width:21.4px"></i><u>27.56</u></p>
<p><b>10. Colima</b><i style="width:21px"></i><u>27.07</u></p>
<p><b>11. San Luis Potosí</b><i style="width:20.7px"></i><u>26.61</u></p>
<p class="n"><b>NACIONAL</b><i style="width:20.3px"></i><u>26.10</u></p>
<p><b>12. Tabasco</b><i style="width:19.4px"></i><u>25.03</u></p>
<p><b>13. Aguascalientes</b><i style="width:19.1px"></i><u>24.56</u></p>
<p><b>14. Tlaxcala</b><i style="width:19px"></i><u>24.39</u></p>
<p><b>15. Chihuahua</b><i style="width:18.2px"></i><u>23.38</u></p>
<p><b>16. Hidalgo</b><i style="width:17.9px"></i><u>23.02</u></p>
<p><b>17. Ciudad de México</b><i style="width:17.6px"></i><u>22.59</u></p>
<p><b>18. Zacatecas</b><i style="width:16.1px"></i><u>20.68</u></p>
<p><b>19. Veracruz</b><i style="width:14.5px"></i><u>18.62</u></p>
<p><b>20. Sonora</b><i style="width:13.7px"></i><u>17.67</u></p>
<p><b>21. Baja California Sur</b><i style="width:13.1px"></i><u>16.85</u></p>
<p class="g"><b>22. Guanajuato</b><i style="width:12.3px"></i><u>15.88</u></p>
<p><b>23. Tamaulipas</b><i style="width:11.7px"></i><u>15.08</u></p>
<p><b>24. Oaxaca</b><i style="width:10.4px"></i><u>13.36</u></p>
<p><b>25. Nuevo León</b><i style="width:10.1px"></i><u>13.05</u></p>
<p><b>26. Guerrero</b><i style="width:9px"></i><u>11.55</u></p>
<p><b>27. Durango</b><i style="width:8px"></i><u>10.31</u></p>
<p><b>28. Campeche</b><i style="width:7.6px"></i><u>9.82</u></p>
<p><b>29. Nayarit</b><i style="width:6.4px"></i><u>8.26</u></p>
<p><b>30. Chiapas</b><i style="width:5.5px"></i><u>7.09</u></p>
<p><b>31. Coahuila</b><i style="width:2.7px"></i><u>3.43</u></p>
<p><b>32. Yucatán</b><i style="width:1.1px"></i><u>1.45</u></p>
</div>

<div class="rk" style="left:734.5px;top:300.1px;--h:4.375px;--c:#3e1a54">
<p><b>1. Baja California Sur</b><i style="width:48.8px"></i><u>0.44</u></p>
<p><b>2. Quintana Roo</b><i style="width:36.6px"></i><u>0.33</u></p>
<p><b>3. Nayarit</b><i style="width:33.3px"></i><u>0.30</u></p>
<p><b>4. Morelos</b><i style="width:26.6px"></i><u>0.24</u></p>
<p><b>5. Zacatecas</b><i style="width:26.6px"></i><u>0.24</u></p>
<p><b>6. San Luis Potosí</b><i style="width:26.6px"></i><u>0.24</u></p>
<p><b>7. Tlaxcala</b><i style="width:24.4px"></i><u>0.22</u></p>
<p><b>8. Estado de México</b><i style="width:23.3px"></i><u>0.21</u></p>
<p><b>9. Veracruz</b><i style="width:22.2px"></i><u>0.20</u></p>
<p><b>10. Michoacán</b><i style="width:21.1px"></i><u>0.19</u></p>
<p><b>11. Chihuahua</b><i style="width:20px"></i><u>0.18</u></p>
<p><b>12. Tabasco</b><i style="width:17.8px"></i><u>0.16</u></p>
<p><b>13. Baja California</b><i style="width:14.4px"></i><u>0.13</u></p>
<p><b>14. Hidalgo</b><i style="width:14.4px"></i><u>0.13</u></p>
<p><b>15. Colima</b><i style="width:14.4px"></i><u>0.13</u></p>
<p class="n"><b>NACIONAL</b><i style="width:14.4px"></i><u>0.13</u></p>
<p><b>16. Campeche</b><i style="width:11.1px"></i><u>0.10</u></p>
<p><b>17. Oaxaca</b><i style="width:11.1px"></i><u>0.10</u></p>
<p><b>18. Sinaloa</b><i style="width:11.1px"></i><u>0.10</u></p>
<p><b>19. Nuevo León</b><i style="width:10px"></i><u>0.09</u></p>
<p><b>20. Ciudad de México</b><i style="width:8.9px"></i><u>0.08</u></p>
<p><b>21. Tamaulipas</b><i style="width:8.9px"></i><u>0.08</u></p>
<p><b>22. Aguascalientes</b><i style="width:7.8px"></i><u>0.07</u></p>
<p class="g"><b>23. Guanajuato</b><i style="width:7.8px"></i><u>0.07</u></p>
<p><b>24. Jalisco</b><i style="width:6.7px"></i><u>0.06</u></p>
<p><b>25. Guerrero</b><i style="width:5.6px"></i><u>0.05</u></p>
<p><b>26. Querétaro</b><i style="width:5.6px"></i><u>0.05</u></p>
<p><b>27. Chiapas</b><i style="width:4.4px"></i><u>0.04</u></p>
<p><b>28. Sonora</b><i style="width:3.3px"></i><u>0.03</u></p>
<p><b>29. Puebla</b><i style="width:3.3px"></i><u>0.03</u></p>
<p><b>30. Yucatán</b><i style="width:0px"></i><u>0.00</u></p>
<p><b>31. Durango</b><i style="width:0px"></i><u>0.00</u></p>
<p><b>32. Coahuila</b><i style="width:0px"></i><u>0.00</u></p>
</div>
</div></body></html>
